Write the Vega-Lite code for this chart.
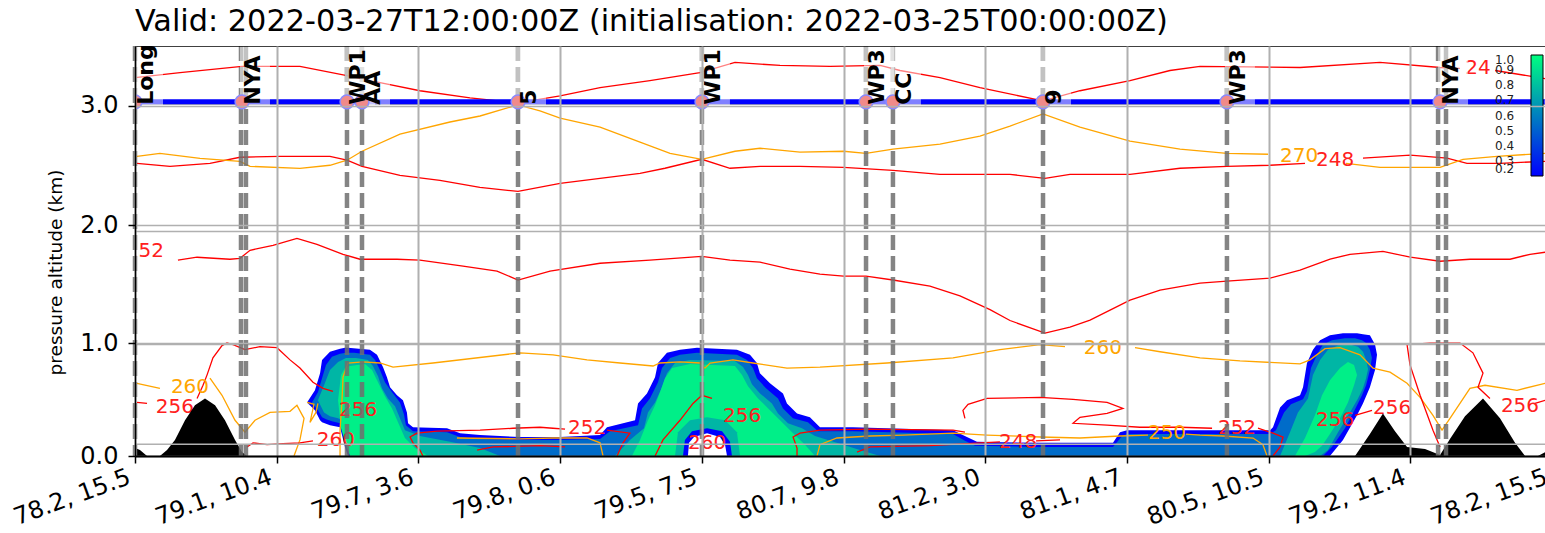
{
"$schema":"https://vega.github.io/schema/vega-lite/v6.json",
"width":1410,"height":410,
"autosize":{"type":"none"},
"padding":{"left":135,"top":46,"right":0,"bottom":77},
"background":"white",
"config":{"font":"DejaVu Sans","view":{"stroke":null}},
"title":{"text":"Valid: 2022-03-27T12:00:00Z (initialisation: 2022-03-25T00:00:00Z)","anchor":"start","frame":"group","fontSize":30.3,"fontWeight":"normal","color":"black","baseline":"alphabetic","offset":13,"dy":31,"font":"DejaVu Sans"},
"datasets":{
"cloud":[
{"p":"e2","l":0.2,"d":1.214,"t":0.485,"b":0.485},{"p":"e2","l":0.2,"d":1.270,"t":0.591,"b":0.415},{"p":"e2","l":0.2,"d":1.306,"t":0.740,"b":0.327},{"p":"e2","l":0.2,"d":1.320,"t":0.855,"b":0.309},{"p":"e2","l":0.2,"d":1.376,"t":0.925,"b":0.283},{"p":"e2","l":0.2,"d":1.447,"t":0.952,"b":0.265},{"p":"e2","l":0.2,"d":1.482,"t":0.960,"b":0.086},{"p":"e2","l":0.2,"d":1.503,"t":0.960,"b":0},{"p":"e2","l":0.2,"d":1.658,"t":0.943,"b":0},{"p":"e2","l":0.2,"d":1.708,"t":0.899,"b":0},{"p":"e2","l":0.2,"d":1.750,"t":0.793,"b":0},{"p":"e2","l":0.2,"d":1.778,"t":0.705,"b":0},{"p":"e2","l":0.2,"d":1.800,"t":0.617,"b":0},{"p":"e2","l":0.2,"d":1.849,"t":0.547,"b":0},{"p":"e2","l":0.2,"d":1.891,"t":0.503,"b":0},{"p":"e2","l":0.2,"d":1.919,"t":0.397,"b":0},{"p":"e2","l":0.2,"d":1.927,"t":0.300,"b":0},{"p":"e2","l":0.2,"d":1.962,"t":0.265,"b":0},{"p":"e2","l":0.2,"d":2.202,"t":0.256,"b":0},{"p":"e2","l":0.2,"d":2.294,"t":0.212,"b":0},{"p":"e2","l":0.2,"d":2.435,"t":0.195,"b":0},{"p":"e2","l":0.2,"d":2.717,"t":0.177,"b":0},{"p":"e2","l":0.2,"d":2.999,"t":0.177,"b":0},{"p":"e2","l":0.2,"d":3.282,"t":0.195,"b":0},{"p":"e2","l":0.2,"d":3.331,"t":0.265,"b":0},{"p":"e2","l":0.2,"d":3.529,"t":0.327,"b":0},{"p":"e2","l":0.2,"d":3.550,"t":0.476,"b":0},{"p":"e2","l":0.2,"d":3.613,"t":0.564,"b":0},{"p":"e2","l":0.2,"d":3.670,"t":0.705,"b":0},{"p":"e2","l":0.2,"d":3.691,"t":0.828,"b":0},{"p":"e2","l":0.2,"d":3.754,"t":0.916,"b":0},{"p":"e2","l":0.2,"d":3.846,"t":0.943,"b":0},{"p":"e2","l":0.2,"d":3.966,"t":0.960,"b":0},{"p":"e2","l":0.2,"d":4.248,"t":0.943,"b":0},{"p":"e2","l":0.2,"d":4.340,"t":0.899,"b":0},{"p":"e2","l":0.2,"d":4.389,"t":0.828,"b":0},{"p":"e2","l":0.2,"d":4.410,"t":0.740,"b":0},{"p":"e2","l":0.2,"d":4.481,"t":0.652,"b":0},{"p":"e2","l":0.2,"d":4.573,"t":0.564,"b":0},{"p":"e2","l":0.2,"d":4.601,"t":0.476,"b":0},{"p":"e2","l":0.2,"d":4.672,"t":0.388,"b":0},{"p":"e2","l":0.2,"d":4.763,"t":0.353,"b":0},{"p":"e2","l":0.2,"d":4.834,"t":0.265,"b":0},{"p":"e2","l":0.2,"d":5.067,"t":0.265,"b":0},{"p":"e2","l":0.2,"d":5.773,"t":0.239,"b":0},{"p":"e2","l":0.2,"d":5.871,"t":0.177,"b":0},{"p":"e2","l":0.2,"d":5.942,"t":0.133,"b":0},{"p":"e2","l":0.2,"d":6.387,"t":0.124,"b":0},{"p":"e2","l":0.2,"d":6.902,"t":0.124,"b":0},{"p":"e2","l":0.2,"d":6.951,"t":0.221,"b":0},{"p":"e2","l":0.2,"d":7.001,"t":0.239,"b":0},{"p":"e2","l":0.2,"d":8.010,"t":0.239,"b":0},{"p":"e2","l":0.2,"d":8.031,"t":0.265,"b":0},{"p":"e2","l":0.2,"d":8.081,"t":0.441,"b":0},{"p":"e2","l":0.2,"d":8.130,"t":0.503,"b":0},{"p":"e2","l":0.2,"d":8.222,"t":0.547,"b":0},{"p":"e2","l":0.2,"d":8.243,"t":0.617,"b":0},{"p":"e2","l":0.2,"d":8.271,"t":0.828,"b":0},{"p":"e2","l":0.2,"d":8.313,"t":0.943,"b":0},{"p":"e2","l":0.2,"d":8.363,"t":1.025,"b":0},{"p":"e2","l":0.2,"d":8.433,"t":1.067,"b":0},{"p":"e2","l":0.2,"d":8.525,"t":1.084,"b":0.151},{"p":"e2","l":0.2,"d":8.624,"t":1.084,"b":0.371},{"p":"e2","l":0.2,"d":8.666,"t":1.076,"b":0.476},{"p":"e2","l":0.2,"d":8.715,"t":1.067,"b":0.617},{"p":"e2","l":0.2,"d":8.751,"t":0.987,"b":0.767},{"p":"e2","l":0.2,"d":8.765,"t":0.899,"b":0.899},
{"p":"e4","l":0.54,"d":1.249,"t":0.485,"b":0.485},{"p":"e4","l":0.54,"d":1.291,"t":0.573,"b":0.415},{"p":"e4","l":0.54,"d":1.320,"t":0.696,"b":0.353},{"p":"e4","l":0.54,"d":1.348,"t":0.811,"b":0.336},{"p":"e4","l":0.54,"d":1.390,"t":0.881,"b":0.318},{"p":"e4","l":0.54,"d":1.447,"t":0.908,"b":0.300},{"p":"e4","l":0.54,"d":1.489,"t":0.916,"b":0.151},{"p":"e4","l":0.54,"d":1.517,"t":0.916,"b":0.076},{"p":"e4","l":0.54,"d":1.546,"t":0.916,"b":0},{"p":"e4","l":0.54,"d":1.658,"t":0.899,"b":0},{"p":"e4","l":0.54,"d":1.694,"t":0.855,"b":0},{"p":"e4","l":0.54,"d":1.729,"t":0.767,"b":0},{"p":"e4","l":0.54,"d":1.764,"t":0.661,"b":0},{"p":"e4","l":0.54,"d":1.814,"t":0.573,"b":0},{"p":"e4","l":0.54,"d":1.870,"t":0.485,"b":0},{"p":"e4","l":0.54,"d":1.898,"t":0.380,"b":0},{"p":"e4","l":0.54,"d":1.912,"t":0.283,"b":0},{"p":"e4","l":0.54,"d":1.962,"t":0.230,"b":0},{"p":"e4","l":0.54,"d":2.202,"t":0.221,"b":0},{"p":"e4","l":0.54,"d":2.294,"t":0.177,"b":0},{"p":"e4","l":0.54,"d":2.435,"t":0.160,"b":0},{"p":"e4","l":0.54,"d":2.717,"t":0.151,"b":0},{"p":"e4","l":0.54,"d":2.999,"t":0.151,"b":0},{"p":"e4","l":0.54,"d":3.282,"t":0.160,"b":0},{"p":"e4","l":0.54,"d":3.352,"t":0.230,"b":0},{"p":"e4","l":0.54,"d":3.550,"t":0.283,"b":0},{"p":"e4","l":0.54,"d":3.578,"t":0.432,"b":0},{"p":"e4","l":0.54,"d":3.634,"t":0.520,"b":0},{"p":"e4","l":0.54,"d":3.691,"t":0.661,"b":0},{"p":"e4","l":0.54,"d":3.719,"t":0.784,"b":0},{"p":"e4","l":0.54,"d":3.776,"t":0.872,"b":0},{"p":"e4","l":0.54,"d":3.846,"t":0.899,"b":0},{"p":"e4","l":0.54,"d":3.966,"t":0.916,"b":0},{"p":"e4","l":0.54,"d":4.248,"t":0.899,"b":0},{"p":"e4","l":0.54,"d":4.319,"t":0.855,"b":0},{"p":"e4","l":0.54,"d":4.361,"t":0.784,"b":0},{"p":"e4","l":0.54,"d":4.389,"t":0.696,"b":0},{"p":"e4","l":0.54,"d":4.453,"t":0.608,"b":0},{"p":"e4","l":0.54,"d":4.538,"t":0.520,"b":0},{"p":"e4","l":0.54,"d":4.573,"t":0.432,"b":0},{"p":"e4","l":0.54,"d":4.643,"t":0.344,"b":0},{"p":"e4","l":0.54,"d":4.749,"t":0.309,"b":0},{"p":"e4","l":0.54,"d":4.820,"t":0.230,"b":0},{"p":"e4","l":0.54,"d":5.067,"t":0.230,"b":0},{"p":"e4","l":0.54,"d":5.773,"t":0.204,"b":0},{"p":"e4","l":0.54,"d":5.857,"t":0.142,"b":0},{"p":"e4","l":0.54,"d":5.928,"t":0.098,"b":0},{"p":"e4","l":0.54,"d":6.387,"t":0.086,"b":0},{"p":"e4","l":0.54,"d":6.902,"t":0.086,"b":0},{"p":"e4","l":0.54,"d":6.966,"t":0.186,"b":0},{"p":"e4","l":0.54,"d":7.001,"t":0.204,"b":0},{"p":"e4","l":0.54,"d":8.010,"t":0.204,"b":0},{"p":"e4","l":0.54,"d":8.052,"t":0.239,"b":0},{"p":"e4","l":0.54,"d":8.109,"t":0.397,"b":0},{"p":"e4","l":0.54,"d":8.158,"t":0.468,"b":0},{"p":"e4","l":0.54,"d":8.243,"t":0.512,"b":0},{"p":"e4","l":0.54,"d":8.271,"t":0.582,"b":0},{"p":"e4","l":0.54,"d":8.299,"t":0.784,"b":0},{"p":"e4","l":0.54,"d":8.341,"t":0.899,"b":0},{"p":"e4","l":0.54,"d":8.384,"t":0.987,"b":0},{"p":"e4","l":0.54,"d":8.447,"t":1.025,"b":0.086},{"p":"e4","l":0.54,"d":8.539,"t":1.042,"b":0.256},{"p":"e4","l":0.54,"d":8.610,"t":1.042,"b":0.424},{"p":"e4","l":0.54,"d":8.659,"t":1.025,"b":0.547},{"p":"e4","l":0.54,"d":8.688,"t":1.000,"b":0.635},{"p":"e4","l":0.54,"d":8.715,"t":0.943,"b":0.767},{"p":"e4","l":0.54,"d":8.729,"t":0.872,"b":0.872},
{"p":"a6","l":0.77,"d":1.291,"t":0.503,"b":0.503},{"p":"a6","l":0.77,"d":1.334,"t":0.635,"b":0.397},{"p":"a6","l":0.77,"d":1.376,"t":0.767,"b":0.362},{"p":"a6","l":0.77,"d":1.433,"t":0.837,"b":0.344},{"p":"a6","l":0.77,"d":1.489,"t":0.872,"b":0.309},{"p":"a6","l":0.77,"d":1.531,"t":0.872,"b":0.151},{"p":"a6","l":0.77,"d":1.560,"t":0.872,"b":0},{"p":"a6","l":0.77,"d":1.644,"t":0.855,"b":0},{"p":"a6","l":0.77,"d":1.679,"t":0.802,"b":0},{"p":"a6","l":0.77,"d":1.715,"t":0.714,"b":0},{"p":"a6","l":0.77,"d":1.743,"t":0.608,"b":0},{"p":"a6","l":0.77,"d":1.785,"t":0.520,"b":0},{"p":"a6","l":0.77,"d":1.835,"t":0.450,"b":0},{"p":"a6","l":0.77,"d":1.870,"t":0.344,"b":0},{"p":"a6","l":0.77,"d":1.905,"t":0.239,"b":0},{"p":"a6","l":0.77,"d":2.011,"t":0.186,"b":0},{"p":"a6","l":0.77,"d":2.223,"t":0.133,"b":0},{"p":"a6","l":0.77,"d":2.435,"t":0.076,"b":0},{"p":"a6","l":0.77,"d":2.576,"t":0,"b":0},
{"p":"b6","l":0.77,"d":3.387,"t":0,"b":0},{"p":"b6","l":0.77,"d":3.493,"t":0.151,"b":0},{"p":"b6","l":0.77,"d":3.592,"t":0.256,"b":0},{"p":"b6","l":0.77,"d":3.620,"t":0.397,"b":0},{"p":"b6","l":0.77,"d":3.670,"t":0.485,"b":0},{"p":"b6","l":0.77,"d":3.719,"t":0.617,"b":0},{"p":"b6","l":0.77,"d":3.754,"t":0.740,"b":0},{"p":"b6","l":0.77,"d":3.811,"t":0.828,"b":0},{"p":"b6","l":0.77,"d":3.917,"t":0.855,"b":0},{"p":"b6","l":0.77,"d":4.234,"t":0.846,"b":0},{"p":"b6","l":0.77,"d":4.291,"t":0.793,"b":0},{"p":"b6","l":0.77,"d":4.326,"t":0.723,"b":0},{"p":"b6","l":0.77,"d":4.354,"t":0.644,"b":0},{"p":"b6","l":0.77,"d":4.411,"t":0.564,"b":0},{"p":"b6","l":0.77,"d":4.495,"t":0.476,"b":0},{"p":"b6","l":0.77,"d":4.538,"t":0.388,"b":0},{"p":"b6","l":0.77,"d":4.608,"t":0.300,"b":0},{"p":"b6","l":0.77,"d":4.707,"t":0.256,"b":0},{"p":"b6","l":0.77,"d":4.799,"t":0.186,"b":0},{"p":"b6","l":0.77,"d":4.975,"t":0.116,"b":0},{"p":"b6","l":0.77,"d":5.116,"t":0.057,"b":0},{"p":"b6","l":0.77,"d":5.258,"t":0,"b":0},
{"p":"c6","l":0.77,"d":8.081,"t":0,"b":0},{"p":"c6","l":0.77,"d":8.151,"t":0.221,"b":0},{"p":"c6","l":0.77,"d":8.207,"t":0.397,"b":0},{"p":"c6","l":0.77,"d":8.278,"t":0.520,"b":0},{"p":"c6","l":0.77,"d":8.313,"t":0.723,"b":0},{"p":"c6","l":0.77,"d":8.363,"t":0.855,"b":0},{"p":"c6","l":0.77,"d":8.419,"t":0.943,"b":0.057},{"p":"c6","l":0.77,"d":8.490,"t":0.978,"b":0.221},{"p":"c6","l":0.77,"d":8.574,"t":0.987,"b":0.397},{"p":"c6","l":0.77,"d":8.631,"t":0.969,"b":0.520},{"p":"c6","l":0.77,"d":8.666,"t":0.925,"b":0.608},{"p":"c6","l":0.77,"d":8.688,"t":0.855,"b":0.696},{"p":"c6","l":0.77,"d":8.702,"t":0.776,"b":0.776},
{"p":"a9","l":0.95,"d":1.433,"t":0.503,"b":0.503},{"p":"a9","l":0.95,"d":1.454,"t":0.723,"b":0.256},{"p":"a9","l":0.95,"d":1.482,"t":0.784,"b":0.133},{"p":"a9","l":0.95,"d":1.517,"t":0.802,"b":0},{"p":"a9","l":0.95,"d":1.623,"t":0.820,"b":0},{"p":"a9","l":0.95,"d":1.673,"t":0.767,"b":0},{"p":"a9","l":0.95,"d":1.715,"t":0.661,"b":0},{"p":"a9","l":0.95,"d":1.764,"t":0.538,"b":0},{"p":"a9","l":0.95,"d":1.814,"t":0.432,"b":0},{"p":"a9","l":0.95,"d":1.856,"t":0.309,"b":0},{"p":"a9","l":0.95,"d":1.905,"t":0.168,"b":0},{"p":"a9","l":0.95,"d":1.976,"t":0.076,"b":0},{"p":"a9","l":0.95,"d":2.068,"t":0,"b":0},
{"p":"b9","l":0.95,"d":3.507,"t":0,"b":0},{"p":"b9","l":0.95,"d":3.564,"t":0.151,"b":0},{"p":"b9","l":0.95,"d":3.620,"t":0.327,"b":0},{"p":"b9","l":0.95,"d":3.670,"t":0.459,"b":0},{"p":"b9","l":0.95,"d":3.705,"t":0.573,"b":0},{"p":"b9","l":0.95,"d":3.740,"t":0.696,"b":0},{"p":"b9","l":0.95,"d":3.790,"t":0.784,"b":0},{"p":"b9","l":0.95,"d":3.917,"t":0.820,"b":0},{"p":"b9","l":0.95,"d":4.234,"t":0.802,"b":0},{"p":"b9","l":0.95,"d":4.284,"t":0.723,"b":0},{"p":"b9","l":0.95,"d":4.326,"t":0.626,"b":0},{"p":"b9","l":0.95,"d":4.397,"t":0.520,"b":0},{"p":"b9","l":0.95,"d":4.481,"t":0.415,"b":0},{"p":"b9","l":0.95,"d":4.552,"t":0.327,"b":0},{"p":"b9","l":0.95,"d":4.637,"t":0.221,"b":0},{"p":"b9","l":0.95,"d":4.728,"t":0.107,"b":0},{"p":"b9","l":0.95,"d":4.799,"t":0,"b":0},
{"p":"c9","l":0.95,"d":8.186,"t":0,"b":0},{"p":"c9","l":0.95,"d":8.257,"t":0.168,"b":0},{"p":"c9","l":0.95,"d":8.327,"t":0.371,"b":0.038},{"p":"c9","l":0.95,"d":8.377,"t":0.547,"b":0.098},{"p":"c9","l":0.95,"d":8.433,"t":0.679,"b":0.204},{"p":"c9","l":0.95,"d":8.504,"t":0.784,"b":0.344},{"p":"c9","l":0.95,"d":8.560,"t":0.837,"b":0.485},{"p":"c9","l":0.95,"d":8.603,"t":0.811,"b":0.635},{"p":"c9","l":0.95,"d":8.624,"t":0.723,"b":0.723},
{"p":"h6","l":0.77,"d":3.811,"t":0,"b":0},{"p":"h6","l":0.77,"d":3.832,"t":0.221,"b":0},{"p":"h6","l":0.77,"d":3.917,"t":0.327,"b":0},{"p":"h6","l":0.77,"d":4.037,"t":0.353,"b":0},{"p":"h6","l":0.77,"d":4.164,"t":0.327,"b":0},{"p":"h6","l":0.77,"d":4.248,"t":0.221,"b":0},{"p":"h6","l":0.77,"d":4.270,"t":0,"b":0},
{"p":"h2","l":0.2,"d":3.867,"t":0,"b":0},{"p":"h2","l":0.2,"d":3.881,"t":0.151,"b":0},{"p":"h2","l":0.2,"d":3.931,"t":0.230,"b":0},{"p":"h2","l":0.2,"d":4.037,"t":0.256,"b":0},{"p":"h2","l":0.2,"d":4.143,"t":0.230,"b":0},{"p":"h2","l":0.2,"d":4.199,"t":0.133,"b":0},{"p":"h2","l":0.2,"d":4.213,"t":0,"b":0}
],
"hole":[{"d":3.902,"t":0},{"d":3.910,"t":0.124},{"d":3.945,"t":0.177},{"d":4.037,"t":0.212},{"d":4.128,"t":0.177},{"d":4.164,"t":0.107},{"d":4.178,"t":0}],
"terrain":[{"d":0,"h":0.076},{"d":0.035,"h":0.057},{"d":0.085,"h":0},{"d":0.176,"h":0},{"d":0.226,"h":0.057},{"d":0.282,"h":0.151},{"d":0.353,"h":0.327},{"d":0.423,"h":0.459},{"d":0.494,"h":0.520},{"d":0.565,"h":0.459},{"d":0.635,"h":0.327},{"d":0.706,"h":0.151},{"d":0.755,"h":0.038},{"d":0.790,"h":0},{"d":8.610,"h":0},{"d":8.715,"h":0.204},{"d":8.807,"h":0.388},{"d":8.892,"h":0.230},{"d":8.977,"h":0.086},{"d":9.104,"h":0.067},{"d":9.210,"h":0.010},{"d":9.280,"h":0.160},{"d":9.386,"h":0.362},{"d":9.513,"h":0.520},{"d":9.633,"h":0.344},{"d":9.739,"h":0.124},{"d":9.810,"h":0},{"d":9.901,"h":0},{"d":9.951,"h":0.038},{"d":10,"h":0.06}],
"lines":[
{"id":"r1a","v":"T","d":0,"z":3.234},{"id":"r1a","v":"T","d":0.318,"z":3.276},{"id":"r1a","v":"T","d":0.755,"z":3.327},{"id":"r1a","v":"T","d":1.164,"z":3.327},{"id":"r1a","v":"T","d":1.496,"z":3.251},{"id":"r1a","v":"T","d":1.729,"z":3.192},{"id":"r1a","v":"T","d":2.011,"z":3.125},{"id":"r1a","v":"T","d":2.364,"z":3.066},{"id":"r1a","v":"T","d":2.703,"z":3.024},{"id":"r1a","v":"T","d":3.0,"z":3.083},{"id":"r1a","v":"T","d":3.282,"z":3.150},{"id":"r1a","v":"T","d":3.634,"z":3.209},{"id":"r1a","v":"T","d":3.987,"z":3.276},{"id":"r1a","v":"T","d":4.234,"z":3.360},{"id":"r1a","v":"T","d":4.552,"z":3.335},{"id":"r1a","v":"T","d":4.905,"z":3.327},{"id":"r1a","v":"T","d":5.258,"z":3.335},{"id":"r1a","v":"T","d":5.399,"z":3.293},{"id":"r1a","v":"T","d":5.681,"z":3.234},{"id":"r1a","v":"T","d":5.963,"z":3.150},{"id":"r1a","v":"T","d":6.408,"z":3.041},{"id":"r1a","v":"T","d":6.669,"z":3.125},{"id":"r1a","v":"T","d":7.022,"z":3.209},{"id":"r1a","v":"T","d":7.304,"z":3.293},{"id":"r1a","v":"T","d":7.516,"z":3.327},{"id":"r1a","v":"T","d":8.222,"z":3.318},{"id":"r1a","v":"T","d":8.786,"z":3.360},{"id":"r1a","v":"T","d":9.210,"z":3.318},{"id":"r1a","v":"T","d":9.35,"z":3.310},
{"id":"r1b","v":"T","d":9.598,"z":3.293},{"id":"r1b","v":"T","d":9.951,"z":3.226},{"id":"r1b","v":"T","d":10,"z":3.22},
{"id":"r2a","v":"T","d":0.014,"z":2.520},{"id":"r2a","v":"T","d":0.247,"z":2.495},{"id":"r2a","v":"T","d":0.529,"z":2.520},{"id":"r2a","v":"T","d":0.741,"z":2.571},{"id":"r2a","v":"T","d":1.023,"z":2.579},{"id":"r2a","v":"T","d":1.376,"z":2.579},{"id":"r2a","v":"T","d":1.496,"z":2.546},{"id":"r2a","v":"T","d":1.602,"z":2.495},{"id":"r2a","v":"T","d":1.870,"z":2.420},{"id":"r2a","v":"T","d":2.152,"z":2.378},{"id":"r2a","v":"T","d":2.434,"z":2.319},{"id":"r2a","v":"T","d":2.703,"z":2.285},{"id":"r2a","v":"T","d":3.0,"z":2.352},{"id":"r2a","v":"T","d":3.282,"z":2.394},{"id":"r2a","v":"T","d":3.564,"z":2.436},{"id":"r2a","v":"T","d":3.740,"z":2.479},{"id":"r2a","v":"T","d":4.0,"z":2.554},{"id":"r2a","v":"T","d":4.199,"z":2.479},{"id":"r2a","v":"T","d":4.411,"z":2.495},{"id":"r2a","v":"T","d":4.693,"z":2.495},{"id":"r2a","v":"T","d":5.0,"z":2.487},{"id":"r2a","v":"T","d":5.349,"z":2.462},{"id":"r2a","v":"T","d":5.681,"z":2.428},{"id":"r2a","v":"T","d":6.175,"z":2.428},{"id":"r2a","v":"T","d":6.422,"z":2.394},{"id":"r2a","v":"T","d":6.598,"z":2.428},{"id":"r2a","v":"T","d":7.022,"z":2.428},{"id":"r2a","v":"T","d":7.375,"z":2.479},{"id":"r2a","v":"T","d":7.706,"z":2.495},{"id":"r2a","v":"T","d":8.01,"z":2.504},{"id":"r2a","v":"T","d":8.257,"z":2.520},
{"id":"r2b","v":"T","d":8.666,"z":2.563},{"id":"r2b","v":"T","d":9.0,"z":2.588},{"id":"r2b","v":"T","d":9.259,"z":2.563},{"id":"r2b","v":"T","d":9.400,"z":2.520},{"id":"r2b","v":"T","d":9.633,"z":2.520},{"id":"r2b","v":"T","d":9.951,"z":2.537},{"id":"r2b","v":"T","d":10,"z":2.54},
{"id":"o1a","v":"th","d":0.014,"z":2.579},{"id":"o1a","v":"th","d":0.176,"z":2.604},{"id":"o1a","v":"th","d":0.459,"z":2.562},{"id":"o1a","v":"th","d":0.741,"z":2.537},{"id":"o1a","v":"th","d":0.812,"z":2.495},{"id":"o1a","v":"th","d":1.164,"z":2.478},{"id":"o1a","v":"th","d":1.376,"z":2.504},{"id":"o1a","v":"th","d":1.496,"z":2.546},{"id":"o1a","v":"th","d":1.602,"z":2.621},{"id":"o1a","v":"th","d":1.870,"z":2.764},{"id":"o1a","v":"th","d":2.223,"z":2.865},{"id":"o1a","v":"th","d":2.435,"z":2.915},{"id":"o1a","v":"th","d":2.703,"z":3.008},{"id":"o1a","v":"th","d":2.858,"z":2.957},{"id":"o1a","v":"th","d":3.0,"z":2.898},{"id":"o1a","v":"th","d":3.282,"z":2.823},{"id":"o1a","v":"th","d":3.564,"z":2.697},{"id":"o1a","v":"th","d":3.776,"z":2.604},{"id":"o1a","v":"th","d":4.0,"z":2.554},{"id":"o1a","v":"th","d":4.234,"z":2.621},{"id":"o1a","v":"th","d":4.411,"z":2.646},{"id":"o1a","v":"th","d":4.693,"z":2.613},{"id":"o1a","v":"th","d":5.0,"z":2.621},{"id":"o1a","v":"th","d":5.159,"z":2.604},{"id":"o1a","v":"th","d":5.349,"z":2.638},{"id":"o1a","v":"th","d":5.681,"z":2.680},{"id":"o1a","v":"th","d":5.963,"z":2.747},{"id":"o1a","v":"th","d":6.175,"z":2.831},{"id":"o1a","v":"th","d":6.408,"z":2.932},{"id":"o1a","v":"th","d":6.669,"z":2.823},{"id":"o1a","v":"th","d":7.022,"z":2.705},{"id":"o1a","v":"th","d":7.375,"z":2.638},{"id":"o1a","v":"th","d":7.706,"z":2.604},{"id":"o1a","v":"th","d":7.996,"z":2.596},
{"id":"o1b","v":"th","d":8.546,"z":2.520},{"id":"o1b","v":"th","d":8.786,"z":2.487},{"id":"o1b","v":"th","d":9.210,"z":2.487},{"id":"o1b","v":"th","d":9.372,"z":2.554},{"id":"o1b","v":"th","d":9.612,"z":2.579},{"id":"o1b","v":"th","d":9.951,"z":2.604},{"id":"o1b","v":"th","d":10,"z":2.606},
{"id":"r3","v":"T","d":0.303,"z":1.706},{"id":"r3","v":"T","d":0.438,"z":1.731},{"id":"r3","v":"T","d":0.670,"z":1.714},{"id":"r3","v":"T","d":0.741,"z":1.722},{"id":"r3","v":"T","d":0.812,"z":1.790},{"id":"r3","v":"T","d":0.974,"z":1.832},{"id":"r3","v":"T","d":1.143,"z":1.890},{"id":"r3","v":"T","d":1.284,"z":1.840},{"id":"r3","v":"T","d":1.468,"z":1.756},{"id":"r3","v":"T","d":1.588,"z":1.714},{"id":"r3","v":"T","d":1.849,"z":1.714},{"id":"r3","v":"T","d":2.011,"z":1.706},{"id":"r3","v":"T","d":2.315,"z":1.655},{"id":"r3","v":"T","d":2.555,"z":1.613},{"id":"r3","v":"T","d":2.703,"z":1.538},{"id":"r3","v":"T","d":2.929,"z":1.613},{"id":"r3","v":"T","d":3.282,"z":1.680},{"id":"r3","v":"T","d":3.634,"z":1.706},{"id":"r3","v":"T","d":4.0,"z":1.739},{"id":"r3","v":"T","d":4.199,"z":1.706},{"id":"r3","v":"T","d":4.411,"z":1.689},{"id":"r3","v":"T","d":4.622,"z":1.630},{"id":"r3","v":"T","d":4.834,"z":1.588},{"id":"r3","v":"T","d":5.0,"z":1.571},{"id":"r3","v":"T","d":5.159,"z":1.571},{"id":"r3","v":"T","d":5.349,"z":1.538},{"id":"r3","v":"T","d":5.610,"z":1.487},{"id":"r3","v":"T","d":5.822,"z":1.403},{"id":"r3","v":"T","d":6.034,"z":1.286},{"id":"r3","v":"T","d":6.175,"z":1.193},{"id":"r3","v":"T","d":6.422,"z":1.085},{"id":"r3","v":"T","d":6.598,"z":1.137},{"id":"r3","v":"T","d":6.740,"z":1.197},{"id":"r3","v":"T","d":6.881,"z":1.282},{"id":"r3","v":"T","d":7.022,"z":1.367},{"id":"r3","v":"T","d":7.234,"z":1.453},{"id":"r3","v":"T","d":7.516,"z":1.512},{"id":"r3","v":"T","d":7.706,"z":1.529},{"id":"r3","v":"T","d":8.010,"z":1.554},{"id":"r3","v":"T","d":8.222,"z":1.622},{"id":"r3","v":"T","d":8.434,"z":1.714},{"id":"r3","v":"T","d":8.574,"z":1.756},{"id":"r3","v":"T","d":8.807,"z":1.781},{"id":"r3","v":"T","d":9.0,"z":1.731},{"id":"r3","v":"T","d":9.210,"z":1.697},{"id":"r3","v":"T","d":9.422,"z":1.714},{"id":"r3","v":"T","d":9.704,"z":1.714},{"id":"r3","v":"T","d":9.845,"z":1.756},{"id":"r3","v":"T","d":9.951,"z":1.773},{"id":"r3","v":"T","d":10,"z":1.775},
{"id":"o2a","v":"th","d":0.014,"z":0.652},{"id":"o2a","v":"th","d":0.176,"z":0.608},
{"id":"o2b","v":"th","d":0.529,"z":0.696},{"id":"o2b","v":"th","d":0.614,"z":0.547},{"id":"o2b","v":"th","d":0.706,"z":0.327},{"id":"o2b","v":"th","d":0.776,"z":0.221},{"id":"o2b","v":"th","d":0.847,"z":0.327},{"id":"o2b","v":"th","d":0.953,"z":0.397},{"id":"o2b","v":"th","d":1.094,"z":0.406},{"id":"o2b","v":"th","d":1.143,"z":0.459},{"id":"o2b","v":"th","d":1.193,"z":0.344},{"id":"o2b","v":"th","d":1.164,"z":0.151},{"id":"o2b","v":"th","d":1.122,"z":0},
{"id":"o2s","v":"th","d":1.214,"z":0.485},{"id":"o2s","v":"th","d":1.263,"z":0.468},{"id":"o2s","v":"th","d":1.235,"z":0.309},{"id":"o2s","v":"th","d":1.277,"z":0.397},{"id":"o2s","v":"th","d":1.291,"z":0.476},
{"id":"o2c","v":"th","d":1.447,"z":0},{"id":"o2c","v":"th","d":1.447,"z":0.239},{"id":"o2c","v":"th","d":1.461,"z":0.503},{"id":"o2c","v":"th","d":1.468,"z":0.705},{"id":"o2c","v":"th","d":1.503,"z":0.828},{"id":"o2c","v":"th","d":1.609,"z":0.837},{"id":"o2c","v":"th","d":1.729,"z":0.828},{"id":"o2c","v":"th","d":1.821,"z":0.793},{"id":"o2c","v":"th","d":2.103,"z":0.828},{"id":"o2c","v":"th","d":2.717,"z":0.916},{"id":"o2c","v":"th","d":2.950,"z":0.899},{"id":"o2c","v":"th","d":3.190,"z":0.855},{"id":"o2c","v":"th","d":3.423,"z":0.828},{"id":"o2c","v":"th","d":3.656,"z":0.802},{"id":"o2c","v":"th","d":3.705,"z":0.828},{"id":"o2c","v":"th","d":3.846,"z":0.837},{"id":"o2c","v":"th","d":3.987,"z":0.828},{"id":"o2c","v":"th","d":4.022,"z":0.784},{"id":"o2c","v":"th","d":4.058,"z":0.828},{"id":"o2c","v":"th","d":4.220,"z":0.855},{"id":"o2c","v":"th","d":4.361,"z":0.828},{"id":"o2c","v":"th","d":4.601,"z":0.784},{"id":"o2c","v":"th","d":4.834,"z":0.793},{"id":"o2c","v":"th","d":5.307,"z":0.828},{"id":"o2c","v":"th","d":5.773,"z":0.872},{"id":"o2c","v":"th","d":6.104,"z":0.943},{"id":"o2c","v":"th","d":6.387,"z":0.987},{"id":"o2c","v":"th","d":6.563,"z":0.969},
{"id":"o2d","v":"th","d":7.057,"z":0.960},{"id":"o2d","v":"th","d":7.234,"z":0.925},{"id":"o2d","v":"th","d":7.516,"z":0.872},{"id":"o2d","v":"th","d":7.798,"z":0.846},{"id":"o2d","v":"th","d":8.222,"z":0.820},{"id":"o2d","v":"th","d":8.292,"z":0.855},{"id":"o2d","v":"th","d":8.398,"z":0.952},{"id":"o2d","v":"th","d":8.504,"z":0.960},{"id":"o2d","v":"th","d":8.645,"z":0.899},{"id":"o2d","v":"th","d":8.737,"z":0.784},{"id":"o2d","v":"th","d":8.857,"z":0.749},{"id":"o2d","v":"th","d":8.977,"z":0.652},{"id":"o2d","v":"th","d":9.069,"z":0.529},{"id":"o2d","v":"th","d":9.160,"z":0.371},{"id":"o2d","v":"th","d":9.224,"z":0.239},{"id":"o2d","v":"th","d":9.280,"z":0.344},{"id":"o2d","v":"th","d":9.421,"z":0.608},{"id":"o2d","v":"th","d":9.527,"z":0.635},{"id":"o2d","v":"th","d":9.753,"z":0.591},{"id":"o2d","v":"th","d":9.951,"z":0.652},{"id":"o2d","v":"th","d":10,"z":0.66},
{"id":"o3a","v":"th","d":2.272,"z":0.168},{"id":"o3a","v":"th","d":2.717,"z":0.160},{"id":"o3a","v":"th","d":2.950,"z":0.168},{"id":"o3a","v":"th","d":3.190,"z":0.168},{"id":"o3a","v":"th","d":3.282,"z":0.124},{"id":"o3a","v":"th","d":3.303,"z":0},
{"id":"o3b","v":"th","d":4.813,"z":0},{"id":"o3b","v":"th","d":4.834,"z":0.107},{"id":"o3b","v":"th","d":4.954,"z":0.168},{"id":"o3b","v":"th","d":5.187,"z":0.186},{"id":"o3b","v":"th","d":5.420,"z":0.195},{"id":"o3b","v":"th","d":5.773,"z":0.212},{"id":"o3b","v":"th","d":6.013,"z":0.195},{"id":"o3b","v":"th","d":6.387,"z":0.177},{"id":"o3b","v":"th","d":6.669,"z":0.168},{"id":"o3b","v":"th","d":6.951,"z":0.186},{"id":"o3b","v":"th","d":7.149,"z":0.195},
{"id":"o3c","v":"th","d":7.417,"z":0.204},{"id":"o3c","v":"th","d":7.516,"z":0.195},{"id":"o3c","v":"th","d":7.678,"z":0.186},{"id":"o3c","v":"th","d":7.890,"z":0.168},{"id":"o3c","v":"th","d":7.960,"z":0.107},{"id":"o3c","v":"th","d":7.989,"z":0},
{"id":"r4a","v":"T","d":0.014,"z":0.485},{"id":"r4a","v":"T","d":0.085,"z":0.476},
{"id":"r4b","v":"T","d":0.438,"z":0.520},{"id":"r4b","v":"T","d":0.480,"z":0.635},{"id":"r4b","v":"T","d":0.508,"z":0.723},{"id":"r4b","v":"T","d":0.550,"z":0.872},{"id":"r4b","v":"T","d":0.614,"z":0.978},{"id":"r4b","v":"T","d":0.649,"z":1.0},{"id":"r4b","v":"T","d":0.692,"z":0.987},{"id":"r4b","v":"T","d":0.776,"z":0.943},{"id":"r4b","v":"T","d":0.882,"z":0.969},{"id":"r4b","v":"T","d":1.002,"z":0.960},{"id":"r4b","v":"T","d":1.094,"z":0.855},{"id":"r4b","v":"T","d":1.164,"z":0.784},{"id":"r4b","v":"T","d":1.256,"z":0.661},{"id":"r4b","v":"T","d":1.327,"z":0.608},{"id":"r4b","v":"T","d":1.397,"z":0.582},
{"id":"r5","v":"T","d":0.790,"z":0.086},{"id":"r5","v":"T","d":0.833,"z":0.124},{"id":"r5","v":"T","d":0.932,"z":0.107},{"id":"r5","v":"T","d":1.044,"z":0.116},{"id":"r5","v":"T","d":1.164,"z":0.124},{"id":"r5","v":"T","d":1.256,"z":0.142},
{"id":"r10","v":"T","d":2.032,"z":0},{"id":"r10","v":"T","d":2.011,"z":0.057},{"id":"r10","v":"T","d":1.962,"z":0.124},{"id":"r10","v":"T","d":1.941,"z":0.177},{"id":"r10","v":"T","d":1.990,"z":0.212},{"id":"r10","v":"T","d":2.131,"z":0.230},{"id":"r10","v":"T","d":2.435,"z":0.239},{"id":"r10","v":"T","d":2.668,"z":0.256},{"id":"r10","v":"T","d":2.858,"z":0.265},{"id":"r10","v":"T","d":2.950,"z":0.256},{"id":"r10","v":"T","d":3.035,"z":0.248},
{"id":"r11","v":"T","d":3.331,"z":0.239},{"id":"r11","v":"T","d":3.493,"z":0.212},{"id":"r11","v":"T","d":3.444,"z":0.124},{"id":"r11","v":"T","d":3.402,"z":0},
{"id":"r12","v":"T","d":2.414,"z":0.057},{"id":"r12","v":"T","d":2.526,"z":0.086},{"id":"r12","v":"T","d":2.858,"z":0.098},{"id":"r12","v":"T","d":3.035,"z":0.086},
{"id":"r13","v":"T","d":3.670,"z":0},{"id":"r13","v":"T","d":3.726,"z":0.151},{"id":"r13","v":"T","d":3.846,"z":0.327},{"id":"r13","v":"T","d":3.938,"z":0.476},{"id":"r13","v":"T","d":4.001,"z":0.547},{"id":"r13","v":"T","d":4.072,"z":0.520},
{"id":"r14","v":"T","d":4.672,"z":0},{"id":"r14","v":"T","d":4.672,"z":0.076},{"id":"r14","v":"T","d":4.644,"z":0.177},{"id":"r14","v":"T","d":4.693,"z":0.212},{"id":"r14","v":"T","d":4.834,"z":0.239},{"id":"r14","v":"T","d":5.166,"z":0.248},{"id":"r14","v":"T","d":5.773,"z":0.239},{"id":"r14","v":"T","d":5.857,"z":0.221},
{"id":"r7","v":"T","d":5.095,"z":0.038},{"id":"r7","v":"T","d":5.187,"z":0.086},{"id":"r7","v":"T","d":5.610,"z":0.098},{"id":"r7","v":"T","d":6.104,"z":0.133},
{"id":"r7b","v":"T","d":6.359,"z":0.142},{"id":"r7b","v":"T","d":6.528,"z":0.151},
{"id":"r8","v":"T","d":5.857,"z":0.344},{"id":"r8","v":"T","d":5.843,"z":0.415},{"id":"r8","v":"T","d":5.879,"z":0.468},{"id":"r8","v":"T","d":6.013,"z":0.520},{"id":"r8","v":"T","d":6.387,"z":0.529},{"id":"r8","v":"T","d":6.620,"z":0.512},{"id":"r8","v":"T","d":6.860,"z":0.485},{"id":"r8","v":"T","d":6.972,"z":0.432},{"id":"r8","v":"T","d":6.860,"z":0.388},{"id":"r8","v":"T","d":6.669,"z":0.353},{"id":"r8","v":"T","d":6.620,"z":0.300},{"id":"r8","v":"T","d":6.860,"z":0.283},{"id":"r8","v":"T","d":7.092,"z":0.265},{"id":"r8","v":"T","d":7.375,"z":0.265},{"id":"r8","v":"T","d":7.601,"z":0.256},
{"id":"r8b","v":"T","d":7.925,"z":0.256},{"id":"r8b","v":"T","d":8.031,"z":0.212},{"id":"r8b","v":"T","d":8.102,"z":0.177},{"id":"r8b","v":"T","d":8.081,"z":0.086},{"id":"r8b","v":"T","d":8.031,"z":0},
{"id":"r15","v":"T","d":8.610,"z":0.371},{"id":"r15","v":"T","d":8.730,"z":0.415},
{"id":"r16","v":"T","d":9.210,"z":0.086},{"id":"r16","v":"T","d":9.160,"z":0.239},{"id":"r16","v":"T","d":9.069,"z":0.547},{"id":"r16","v":"T","d":8.998,"z":0.811},{"id":"r16","v":"T","d":8.977,"z":0.987},{"id":"r16","v":"T","d":9.139,"z":1.0},{"id":"r16","v":"T","d":9.351,"z":1.0},{"id":"r16","v":"T","d":9.442,"z":0.916},{"id":"r16","v":"T","d":9.513,"z":0.740},{"id":"r16","v":"T","d":9.478,"z":0.617},{"id":"r16","v":"T","d":9.562,"z":0.520},
{"id":"r16b","v":"T","d":9.880,"z":0.476},{"id":"r16b","v":"T","d":9.951,"z":0.503},{"id":"r16b","v":"T","d":10,"z":0.51}
],
"clab":[
{"txt":"24","v":"T","d":9.478,"z":3.31},{"txt":"248","v":"T","d":8.469,"z":2.546},{"txt":"270","v":"th","d":8.215,"z":2.579},{"txt":"252","v":"T","d":0.07,"z":1.781},{"txt":"260","v":"th","d":0.388,"z":0.617},{"txt":"256","v":"T","d":0.282,"z":0.441},{"txt":"260","v":"T","d":1.418,"z":0.151},{"txt":"256","v":"T","d":1.574,"z":0.415},{"txt":"252","v":"T","d":3.190,"z":0.256},{"txt":"260","v":"T","d":4.037,"z":0.124},{"txt":"256","v":"T","d":4.284,"z":0.362},{"txt":"248","v":"T","d":6.232,"z":0.133},{"txt":"260","v":"th","d":6.831,"z":0.960},{"txt":"250","v":"th","d":7.283,"z":0.212},{"txt":"252","v":"T","d":7.777,"z":0.256},{"txt":"256","v":"T","d":8.469,"z":0.327},{"txt":"256","v":"T","d":8.871,"z":0.432},{"txt":"256","v":"T","d":9.774,"z":0.453}
],
"wp":[{"name":"Long","d":0,"alt":3.033},{"name":"NYA","d":0.755,"alt":3.033},{"name":"WP1","d":1.496,"alt":3.033},{"name":"AA","d":1.602,"alt":3.033},{"name":"5","d":2.703,"alt":3.033},{"name":"WP1","d":4.001,"alt":3.033},{"name":"WP3","d":5.159,"alt":3.033},{"name":"CC","d":5.349,"alt":3.033},{"name":"9","d":6.408,"alt":3.033},{"name":"WP3","d":7.706,"alt":3.033},{"name":"NYA","d":9.21,"alt":3.033},{"name":"Long","d":10,"alt":3.033}],
"vl":[{"d":0},{"d":0.748},{"d":0.783},{"d":1.496},{"d":1.602},{"d":2.703},{"d":4.001},{"d":5.159},{"d":5.349},{"d":6.408},{"d":7.706},{"d":9.196},{"d":9.252}],
"plev":[{"p":1000,"z":0.111},{"p":900,"z":0.988},{"p":800,"z":1.949},{"p":700,"z":3.012}]
},
"layer":[
{"data":{"name":"cloud"},"mark":{"type":"area","clip":true},
 "encoding":{
  "x":{"field":"d","type":"quantitative","scale":{"domain":[0,10],"range":[0,1417],"nice":false,"zero":false},
   "axis":{"values":[0,1,2,3,4,5,6,7,8,9,10],"labelExpr":"['78.2, 15.5','79.1, 10.4','79.7, 3.6','79.8, 0.6','79.5, 7.5','80.7, 9.8','81.2, 3.0','81.1, 4.7','80.5, 10.5','79.2, 11.4','78.2, 15.5'][datum.value]","labelAngle":-20,"labelAlign":"right","labelBaseline":"top","labelFontSize":24,"labelColor":"black","labelPadding":2,"labelOffset":-10,"labelOverlap":false,"labelBound":false,"labelFlush":false,"tickSize":7,"tickColor":"black","tickWidth":1.5,"domainColor":"black","domainWidth":2,"grid":true,"gridColor":"#b0b0b0","gridWidth":2,"title":null,"zindex":1}},
  "y":{"field":"t","type":"quantitative","stack":null,"scale":{"type":"pow","exponent":1.03,"domain":[0,3.496],"nice":false,"zero":true},
   "axis":{"values":[0,1,2,3],"format":".1f","labelFontSize":24,"labelColor":"black","labelPadding":10,"tickSize":7,"tickColor":"black","tickWidth":1.5,"domainColor":"black","domainWidth":1.5,"grid":true,"gridColor":"#b0b0b0","gridWidth":1.5,"title":"pressure altitude (km)","titleFontSize":18.5,"titleFontWeight":"normal","titleColor":"black","titleX":-80,"titleY":226,"titleAngle":270,"titleBaseline":"middle","titleAlign":"center","zindex":1}},
  "y2":{"field":"b"},
  "detail":{"field":"p","type":"nominal"},
  "color":{"field":"l","type":"quantitative","scale":{"type":"linear","domain":[0.2,1.0],"range":["#0000ff","#00ff80"],"interpolate":"rgb","nice":false,"zero":false},
   "legend":{"type":"gradient","orient":"none","legendX":1396,"legendY":9,"direction":"vertical","title":null,"values":[0.2,0.3,0.4,0.5,0.6,0.7,0.8,0.9,1.0],"gradientLength":121,"gradientThickness":12,"gradientStrokeColor":"black","gradientStrokeWidth":1,"labelFontSize":12,"labelColor":"#222222","labelBaseline":"middle","labelOffset":-48,"padding":0,"format":".1f","labelOverlap":false}}
 }},
{"data":{"name":"hole"},"mark":{"type":"area","color":"white","clip":true},
 "encoding":{"x":{"field":"d","type":"quantitative"},"y":{"field":"t","type":"quantitative"},"y2":{"datum":0}}},
{"data":{"name":"lines"},"mark":{"type":"line","strokeWidth":1.3,"clip":true},
 "encoding":{"x":{"field":"d","type":"quantitative"},"y":{"field":"z","type":"quantitative"},"detail":{"field":"id","type":"nominal"},
  "stroke":{"field":"v","type":"nominal","scale":{"domain":["T","th"],"range":["#ff0000","#ffa500"]},"legend":null},
  "order":{"value":null}}},
{"data":{"name":"clab"},"mark":{"type":"text","fontSize":20,"clip":true,"align":"center","baseline":"middle"},
 "encoding":{"x":{"field":"d","type":"quantitative"},"y":{"field":"z","type":"quantitative"},"text":{"field":"txt"},
  "fill":{"field":"v","type":"nominal","scale":{"domain":["T","th"],"range":["#ff2020","#ffa500"]},"legend":null}}},
{"data":{"name":"terrain"},"mark":{"type":"area","color":"black","clip":true},
 "encoding":{"x":{"field":"d","type":"quantitative"},"y":{"field":"h","type":"quantitative"},"y2":{"datum":0}}},
{"data":{"name":"plev"},"mark":{"type":"rule","color":"#b0b0b0","strokeWidth":1.5},
 "encoding":{"y":{"field":"z","type":"quantitative"}}},
{"data":{"name":"vl"},"mark":{"type":"rule","color":"#6e6e6e","strokeWidth":4.5,"strokeDash":[15,6],"opacity":0.85},
 "encoding":{"x":{"field":"d","type":"quantitative"}}},
{"data":{"name":"wp"},"mark":{"type":"line","color":"#0000ff","strokeWidth":5,"clip":true},
 "encoding":{"x":{"field":"d","type":"quantitative"},"y":{"field":"alt","type":"quantitative"}}},
{"data":{"name":"wp"},"mark":{"type":"rect","width":30,"xOffset":13,"color":"white","opacity":0.5,"clip":true},
 "encoding":{"x":{"field":"d","type":"quantitative"},"y":{"datum":2.985},"y2":{"datum":3.6}}},
{"data":{"name":"wp"},"mark":{"type":"point","filled":true,"size":190,"fill":"#f08a8a","stroke":"#8a8aff","strokeWidth":1.5,"opacity":1,"clip":true},
 "encoding":{"x":{"field":"d","type":"quantitative"},"y":{"field":"alt","type":"quantitative"}}},
{"data":{"name":"wp"},"mark":{"type":"text","angle":270,"align":"left","baseline":"top","dx":-3,"dy":1,"fontSize":22,"fontWeight":"bold","color":"black","clip":true},
 "encoding":{"x":{"field":"d","type":"quantitative"},"y":{"field":"alt","type":"quantitative"},"text":{"field":"name"}}},
{"data":{"values":[{}]},"mark":{"type":"rule","clip":true,"color":"black","strokeWidth":1.5},"encoding":{"y":{"datum":3.496}}}
]
}
